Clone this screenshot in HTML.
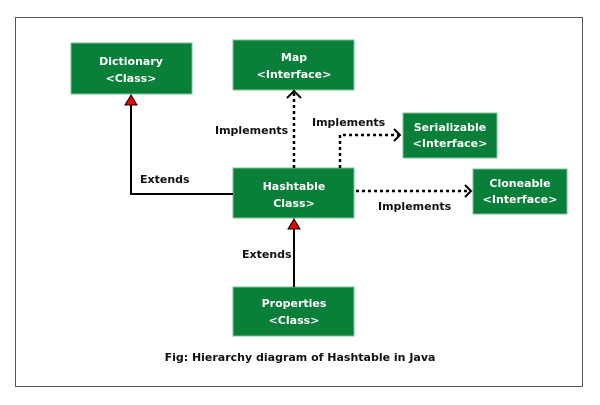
<!DOCTYPE html>
<html><head><style>
body{margin:0;background:#fff;width:600px;height:400px;overflow:hidden}
text{font-family:"DejaVu Sans","Liberation Sans",sans-serif;font-weight:bold}
</style></head><body>
<svg width="600" height="400" xmlns="http://www.w3.org/2000/svg">
<rect x="15.5" y="17.5" width="567" height="369" fill="#fff" stroke="#555" stroke-width="1"/>
<g fill="#0a7f3a" stroke="#7fbf96" stroke-width="1">
<rect x="71" y="43" width="121" height="51"/>
<rect x="233" y="40" width="121" height="50"/>
<rect x="233" y="168" width="121" height="50"/>
<rect x="403" y="113" width="94" height="45"/>
<rect x="473" y="169" width="94" height="45"/>
<rect x="233" y="287" width="121" height="49"/>
</g>
<g fill="#fff" font-size="11" text-anchor="middle">
<text x="131" y="65">Dictionary</text><text x="131" y="82">&lt;Class&gt;</text>
<text x="294" y="61">Map</text><text x="294" y="78">&lt;Interface&gt;</text>
<text x="294" y="190">Hashtable</text><text x="294" y="207">Class&gt;</text>
<text x="450" y="131">Serializable</text><text x="450" y="147">&lt;Interface&gt;</text>
<text x="520" y="187">Cloneable</text><text x="520" y="203">&lt;Interface&gt;</text>
<text x="294" y="307">Properties</text><text x="294" y="324">&lt;Class&gt;</text>
</g>
<g fill="none" stroke="#000" stroke-width="2">
<polyline points="233,194 131,194 131,104"/>
<line x1="294" y1="287" x2="294" y2="229"/>
</g>
<g fill="none" stroke="#000" stroke-width="2.5" stroke-dasharray="3,3">
<line x1="294" y1="168" x2="294" y2="93"/>
<polyline points="340,168 340,135 398,135"/>
<line x1="356" y1="191" x2="469" y2="191"/>
</g>
<g fill="none" stroke="#000" stroke-width="2">
<polyline points="287,98 294,91 301,98"/>
<polyline points="394,129 400,135 394,141"/>
<polyline points="465,185 471,191 465,197"/>
</g>
<polygon points="131,95 125,105 137,105" fill="#e00" stroke="#000" stroke-width="1"/>
<polygon points="294,219 288,229 300,229" fill="#e00" stroke="#000" stroke-width="1"/>
<g fill="#111" font-size="11">
<text x="215" y="134">Implements</text>
<text x="312" y="126">Implements</text>
<text x="140" y="183">Extends</text>
<text x="378" y="210">Implements</text>
<text x="242" y="258">Extends</text>
</g>
<text x="300" y="361" font-size="11" text-anchor="middle" fill="#111">Fig: Hierarchy diagram of Hashtable in Java</text>
</svg>
</body></html>
